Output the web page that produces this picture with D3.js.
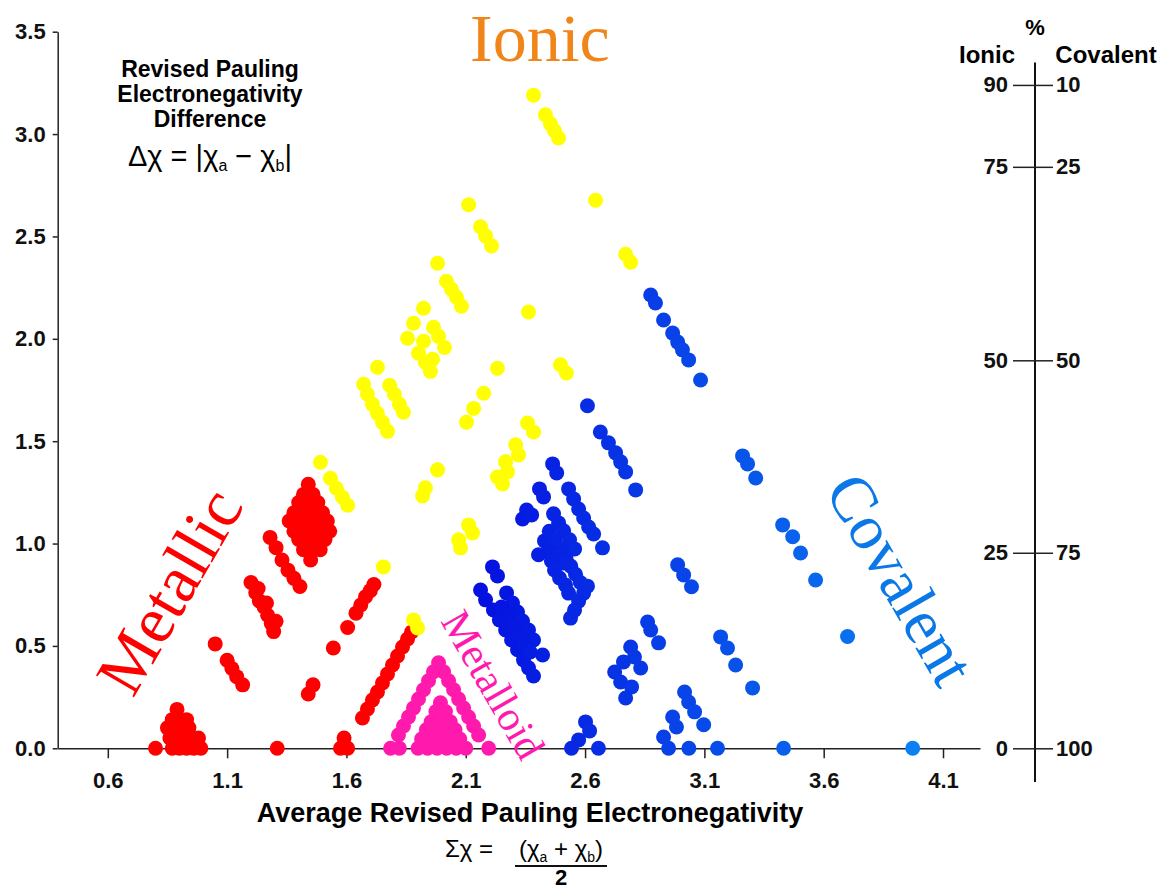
<!DOCTYPE html>
<html>
<head>
<meta charset="utf-8">
<script src="https://cdn.jsdelivr.net/npm/d3@7"></script>
<style>
body { margin: 0; background: #fff; }
svg { display: block; font-family: "Liberation Sans", Arial, sans-serif; }
.axis .tick text { font-family: "Liberation Sans", Arial, sans-serif; font-weight: bold; font-size: 22px; fill: #111; }
.raxis .tick text { font-size: 22px; }
.axis path, .axis line { stroke: #222; stroke-width: 1.5px; }
</style>
</head>
<body>
<div id="chart"></div>
<script>
// tick values
var xTicks = [0.6, 1.1, 1.6, 2.1, 2.6, 3.1, 3.6, 4.1];
var yTicks = [0, 0.5, 1.0, 1.5, 2.0, 2.5, 3.0, 3.5];
var ionicTicks = [0, 25, 50, 75, 90];
var diffAtIonic = [0, 0.955, 1.895, 2.84, 3.24];

// [average EN, EN difference]
var metallic = [
  [0.80,0],[0.87,0],[0.90,0],[0.93,0],[0.96,0],[0.99,0],
  [0.86,0.05],[0.89,0.05],[0.92,0.05],[0.95,0.05],[0.98,0.05],
  [0.85,0.10],[0.88,0.10],[0.91,0.10],[0.94,0.10],
  [0.87,0.14],[0.90,0.14],[0.93,0.14],[0.89,0.19],
  [1.31,0],[1.575,0],[1.605,0],[1.59,0.05],
  [1.05,0.51],[1.10,0.43],[1.12,0.39],[1.14,0.35],[1.165,0.31],
  [1.20,0.81],[1.22,0.76],[1.235,0.72],[1.255,0.69],[1.27,0.65],[1.285,0.61],[1.295,0.57],
  [1.23,0.78],[1.265,0.71],[1.305,0.62],
  [1.28,1.03],[1.305,0.98],[1.33,0.92],[1.355,0.87],[1.38,0.83],[1.405,0.79],
  [1.44,1.29],[1.42,1.24],[1.46,1.24],[1.40,1.20],[1.44,1.20],[1.48,1.20],
  [1.38,1.15],[1.42,1.15],[1.46,1.15],[1.50,1.15],
  [1.36,1.11],[1.40,1.11],[1.44,1.11],[1.48,1.11],[1.52,1.11],
  [1.38,1.06],[1.42,1.06],[1.46,1.06],[1.50,1.06],[1.53,1.06],
  [1.40,1.02],[1.44,1.02],[1.48,1.02],[1.51,1.02],
  [1.42,0.97],[1.46,0.97],[1.49,0.97],[1.45,0.92],
  [1.545,0.49],[1.605,0.59],[1.64,0.66],[1.66,0.70],[1.68,0.74],[1.70,0.77],[1.715,0.80],
  [1.44,0.265],[1.46,0.31],
  [1.667,0.148],[1.688,0.192],[1.709,0.236],[1.73,0.275],[1.751,0.319],[1.772,0.363],
  [1.793,0.407],[1.814,0.451],[1.835,0.495],[1.856,0.534],[1.873,0.568]
];

var ionic = [
  [2.384,3.19],[2.434,3.094],[2.455,3.05],[2.472,3.016],[2.489,2.981],
  [2.644,2.677],[2.77,2.413],[2.791,2.374],
  [2.112,2.655],[2.162,2.547],[2.183,2.503],[2.208,2.454],
  [1.982,2.369],[2.019,2.281],[2.04,2.242],[2.061,2.203],[2.082,2.159],
  [1.923,2.149],[1.881,2.076],[1.856,2.003],[1.965,2.056],[1.986,2.012],[2.011,1.958],
  [1.923,1.988],[1.902,1.93],[1.931,1.885],[1.952,1.841],[1.961,1.90],
  [1.73,1.861],[1.672,1.778],[1.688,1.729],[1.709,1.68],[1.73,1.636],[1.751,1.592],[1.772,1.548],
  [1.781,1.773],[1.801,1.729],[1.822,1.68],[1.839,1.641],
  [2.233,1.856],[2.175,1.734],[2.133,1.66],[2.103,1.593],[2.363,2.131],
  [2.497,1.873],[2.522,1.833],[2.359,1.589],[2.384,1.545],
  [2.309,1.482],[2.321,1.433],[2.267,1.399],[2.275,1.35],[2.233,1.325],[2.254,1.291],
  [1.982,1.36],[1.931,1.272],[1.919,1.233],
  [2.112,1.091],[2.128,1.052],[2.07,1.018],[2.078,0.979],
  [1.755,0.886],[1.881,0.627],[1.898,0.588],
  [1.491,1.397],[1.533,1.319],[1.558,1.27],[1.583,1.226],[1.605,1.187]
];

var metalloid = [
  [1.986,0.418],
  [1.965,0.374],[1.944,0.33],[1.923,0.286],[1.902,0.241],[1.881,0.197],[1.86,0.153],[1.839,0.109],[1.818,0.065],
  [1.785,0],[1.822,0],
  [2.007,0.374],[2.028,0.33],[2.049,0.286],[2.07,0.241],[2.091,0.197],[2.112,0.153],[2.133,0.109],[2.154,0.065],
  [2.196,0],
  [1.994,0.222],[1.975,0.18],[2.015,0.18],[1.955,0.13],[1.995,0.13],[2.035,0.13],
  [1.935,0.09],[1.975,0.09],[2.015,0.09],[2.055,0.09],
  [1.915,0.045],[1.955,0.045],[1.995,0.045],[2.035,0.045],[2.075,0.045],
  [1.90,0],[1.94,0],[1.98,0],[2.02,0],[2.06,0],[2.10,0]
];

var covalent = [
  [2.875,2.214],[2.895,2.175],[2.929,2.092],[2.967,2.028],[2.988,1.984],[3.008,1.946],[3.034,1.897],[3.084,1.799],
  [2.61,1.673],[2.664,1.545],[2.698,1.492],[2.728,1.443],[2.749,1.399],[2.77,1.35],[2.812,1.262],
  [3.26,1.428],[3.281,1.389],[3.315,1.32],
  [3.428,1.091],[3.47,1.033],[3.503,0.954],[3.566,0.822],[3.70,0.546],[3.432,0],[3.973,0],
  [2.988,0.896],[3.013,0.847],[3.046,0.789],
  [3.168,0.544],[3.197,0.49],[3.231,0.407],[3.302,0.295],
  [2.862,0.617],[2.875,0.578],[2.908,0.515],
  [2.791,0.495],[2.807,0.446],[2.761,0.422],[2.724,0.373],[2.833,0.392],[2.749,0.324],[2.795,0.30],[2.77,0.246],
  [3.017,0.275],[3.034,0.226],[3.059,0.178],[3.097,0.115],[2.967,0.153],[2.983,0.104],[2.929,0.055],
  [2.95,0],[3.035,0],[3.155,0],
  [2.602,0.129],[2.619,0.085],[2.573,0.041],[2.543,0],[2.656,0],
  [2.212,0.886],[2.233,0.842],
  [2.162,0.773],[2.183,0.725],[2.216,0.676],[2.241,0.627],[2.267,0.578],[2.292,0.529],[2.317,0.481],[2.342,0.432],[2.363,0.393],[2.384,0.353],
  [2.271,0.759],[2.296,0.71],[2.317,0.666],[2.338,0.622],[2.363,0.578],[2.384,0.529],[2.422,0.456],
  [2.25,0.69],[2.275,0.645],[2.30,0.60],[2.325,0.555],[2.35,0.51],[2.37,0.47],
  [2.464,1.389],[2.481,1.345],[2.409,1.267],[2.426,1.228],
  [2.531,1.267],[2.552,1.218],[2.573,1.169],[2.594,1.125],[2.615,1.081],[2.636,1.047],[2.673,0.979],
  [2.355,1.164],[2.338,1.12],[2.376,1.14],
  [2.468,1.145],[2.489,1.101],[2.51,1.062],[2.535,1.018],[2.556,0.974],
  [2.43,1.013],[2.447,0.964],[2.405,0.945],
  [2.45,1.06],[2.475,1.02],[2.50,0.975],[2.52,0.93],[2.54,0.89],[2.49,0.95],[2.51,0.905],[2.56,0.85],[2.58,0.81],
  [2.459,0.915],[2.472,0.871],[2.493,0.832],[2.518,0.797],[2.531,0.758],
  [2.61,0.792],[2.594,0.758],[2.573,0.719],[2.556,0.675],[2.539,0.636]
];

var width = 1167,
  height = 892;

var x = d3.scaleLinear().domain([0.39, 4.255]).range([57.7, 980]);
var y = d3.scaleLinear().domain([0, 3.5]).range([748.3, 31.7]);
var yR = d3.scaleLinear().domain(ionicTicks).range(diffAtIonic.map(function(d) { return y(d); }));
var blue = d3.scaleLinear().domain([2.2, 4.0]).range(["#0612e0", "#0a82f2"]);

var svg = d3.select("#chart").append("svg")
    .attr("width", width)
    .attr("height", height);

svg.append("rect").attr("width", width).attr("height", height).attr("fill", "#fff");

// left axis
svg.append("g")
    .attr("class", "axis")
    .attr("transform", "translate(" + x.range()[0] + ",0)")
    .call(d3.axisLeft(y).tickValues(yTicks).tickFormat(d3.format(".1f")).tickSize(5).tickSizeOuter(0).tickPadding(7));

// bottom axis
svg.append("g")
    .attr("class", "axis")
    .attr("transform", "translate(0," + y(0) + ")")
    .call(d3.axisBottom(x).tickValues(xTicks).tickFormat(d3.format(".1f")).tickSize(10).tickSizeOuter(0).tickPadding(14));

// right % ionic / % covalent axis
var rx = 1035;
svg.append("line")
    .attr("x1", rx).attr("x2", rx)
    .attr("y1", y(3.35)).attr("y2", y(-0.165))
    .attr("stroke", "#111").attr("stroke-width", 2);
var ra = svg.append("g")
    .attr("class", "axis raxis")
    .attr("transform", "translate(" + rx + ",0)")
    .call(d3.axisLeft(yR).tickValues(ionicTicks).tickSize(22).tickPadding(5));
ra.select(".domain").remove();
var rb = svg.append("g")
    .attr("class", "axis raxis")
    .attr("transform", "translate(" + rx + ",0)")
    .call(d3.axisRight(yR).tickValues(ionicTicks).tickSize(18).tickPadding(3)
      .tickFormat(function(d) { return 100 - d; }));
rb.select(".domain").remove();

svg.append("text").attr("x", rx).attr("y", 35).attr("text-anchor", "middle")
    .attr("font-weight", "bold").attr("font-size", 22).text("%");
svg.append("text").attr("x", 987).attr("y", 63).attr("text-anchor", "middle")
    .attr("font-weight", "bold").attr("font-size", 24).text("Ionic");
svg.append("text").attr("x", 1106).attr("y", 63).attr("text-anchor", "middle")
    .attr("font-weight", "bold").attr("font-size", 24).text("Covalent");

// dots
function drawDots(data, color) {
  svg.append("g")
    .selectAll("circle")
    .data(data)
    .enter().append("circle")
      .attr("cx", function(d) { return x(d[0]); })
      .attr("cy", function(d) { return y(d[1]); })
      .attr("r", 7.5)
      .attr("fill", color);
}
drawDots(metallic, "#ff0000");
drawDots(ionic, "#ffff00");
drawDots(metalloid, "#ff1aad");
drawDots(covalent, function(d) { return blue(d[0]); });

// y title block
var tb = svg.append("g").attr("font-weight", "bold").attr("font-size", 23).attr("text-anchor", "middle");
tb.append("text").attr("x", 210).attr("y", 77).text("Revised Pauling");
tb.append("text").attr("x", 210).attr("y", 102).text("Electronegativity");
tb.append("text").attr("x", 210).attr("y", 127).text("Difference");

var f1 = svg.append("text").attr("x", 210).attr("y", 166).attr("text-anchor", "middle").attr("font-size", 29);
f1.append("tspan").text("Δχ =  |χ");
f1.append("tspan").attr("font-size", 16).attr("dy", 5).text("a");
f1.append("tspan").attr("dy", -5).text(" − χ");
f1.append("tspan").attr("font-size", 16).attr("dy", 5).text("b");
f1.append("tspan").attr("dy", -5).text("|");

// x title
svg.append("text").attr("x", 530).attr("y", 822).attr("text-anchor", "middle")
    .attr("font-weight", "bold").attr("font-size", 27)
    .text("Average Revised Pauling Electronegativity");

svg.append("text").attr("x", 445).attr("y", 857).attr("font-size", 24).text("Σχ =");
var f2 = svg.append("text").attr("x", 561).attr("y", 857).attr("text-anchor", "middle").attr("font-size", 24);
f2.append("tspan").text("(χ");
f2.append("tspan").attr("font-size", 14).attr("dy", 5).text("a");
f2.append("tspan").attr("dy", -5).text(" + χ");
f2.append("tspan").attr("font-size", 14).attr("dy", 5).text("b");
f2.append("tspan").attr("dy", -5).text(")");
svg.append("line").attr("x1", 515).attr("x2", 607).attr("y1", 866).attr("y2", 866)
    .attr("stroke", "#111").attr("stroke-width", 2);
svg.append("text").attr("x", 561).attr("y", 885).attr("text-anchor", "middle")
    .attr("font-weight", "bold").attr("font-size", 22).text("2");

// region labels
var serif = "'Liberation Serif', 'Times New Roman', serif";
svg.append("text").attr("x", 470).attr("y", 61)
    .attr("font-family", serif).attr("font-size", 68).attr("fill", "#f0861a").text("Ionic");
svg.append("text").attr("transform", "translate(133,699) rotate(-60)")
    .attr("font-family", serif).attr("font-size", 67).attr("fill", "#ff0000").text("Metallic");
svg.append("text").attr("transform", "translate(824,490) rotate(60)")
    .attr("font-family", serif).attr("font-size", 64).attr("fill", "#0a78e6").text("Covalent");
svg.append("text").attr("transform", "translate(440,621) rotate(60)")
    .attr("font-family", serif).attr("font-size", 42).attr("fill", "#ff1aad").text("Metalloid");
</script>
</body>
</html>
